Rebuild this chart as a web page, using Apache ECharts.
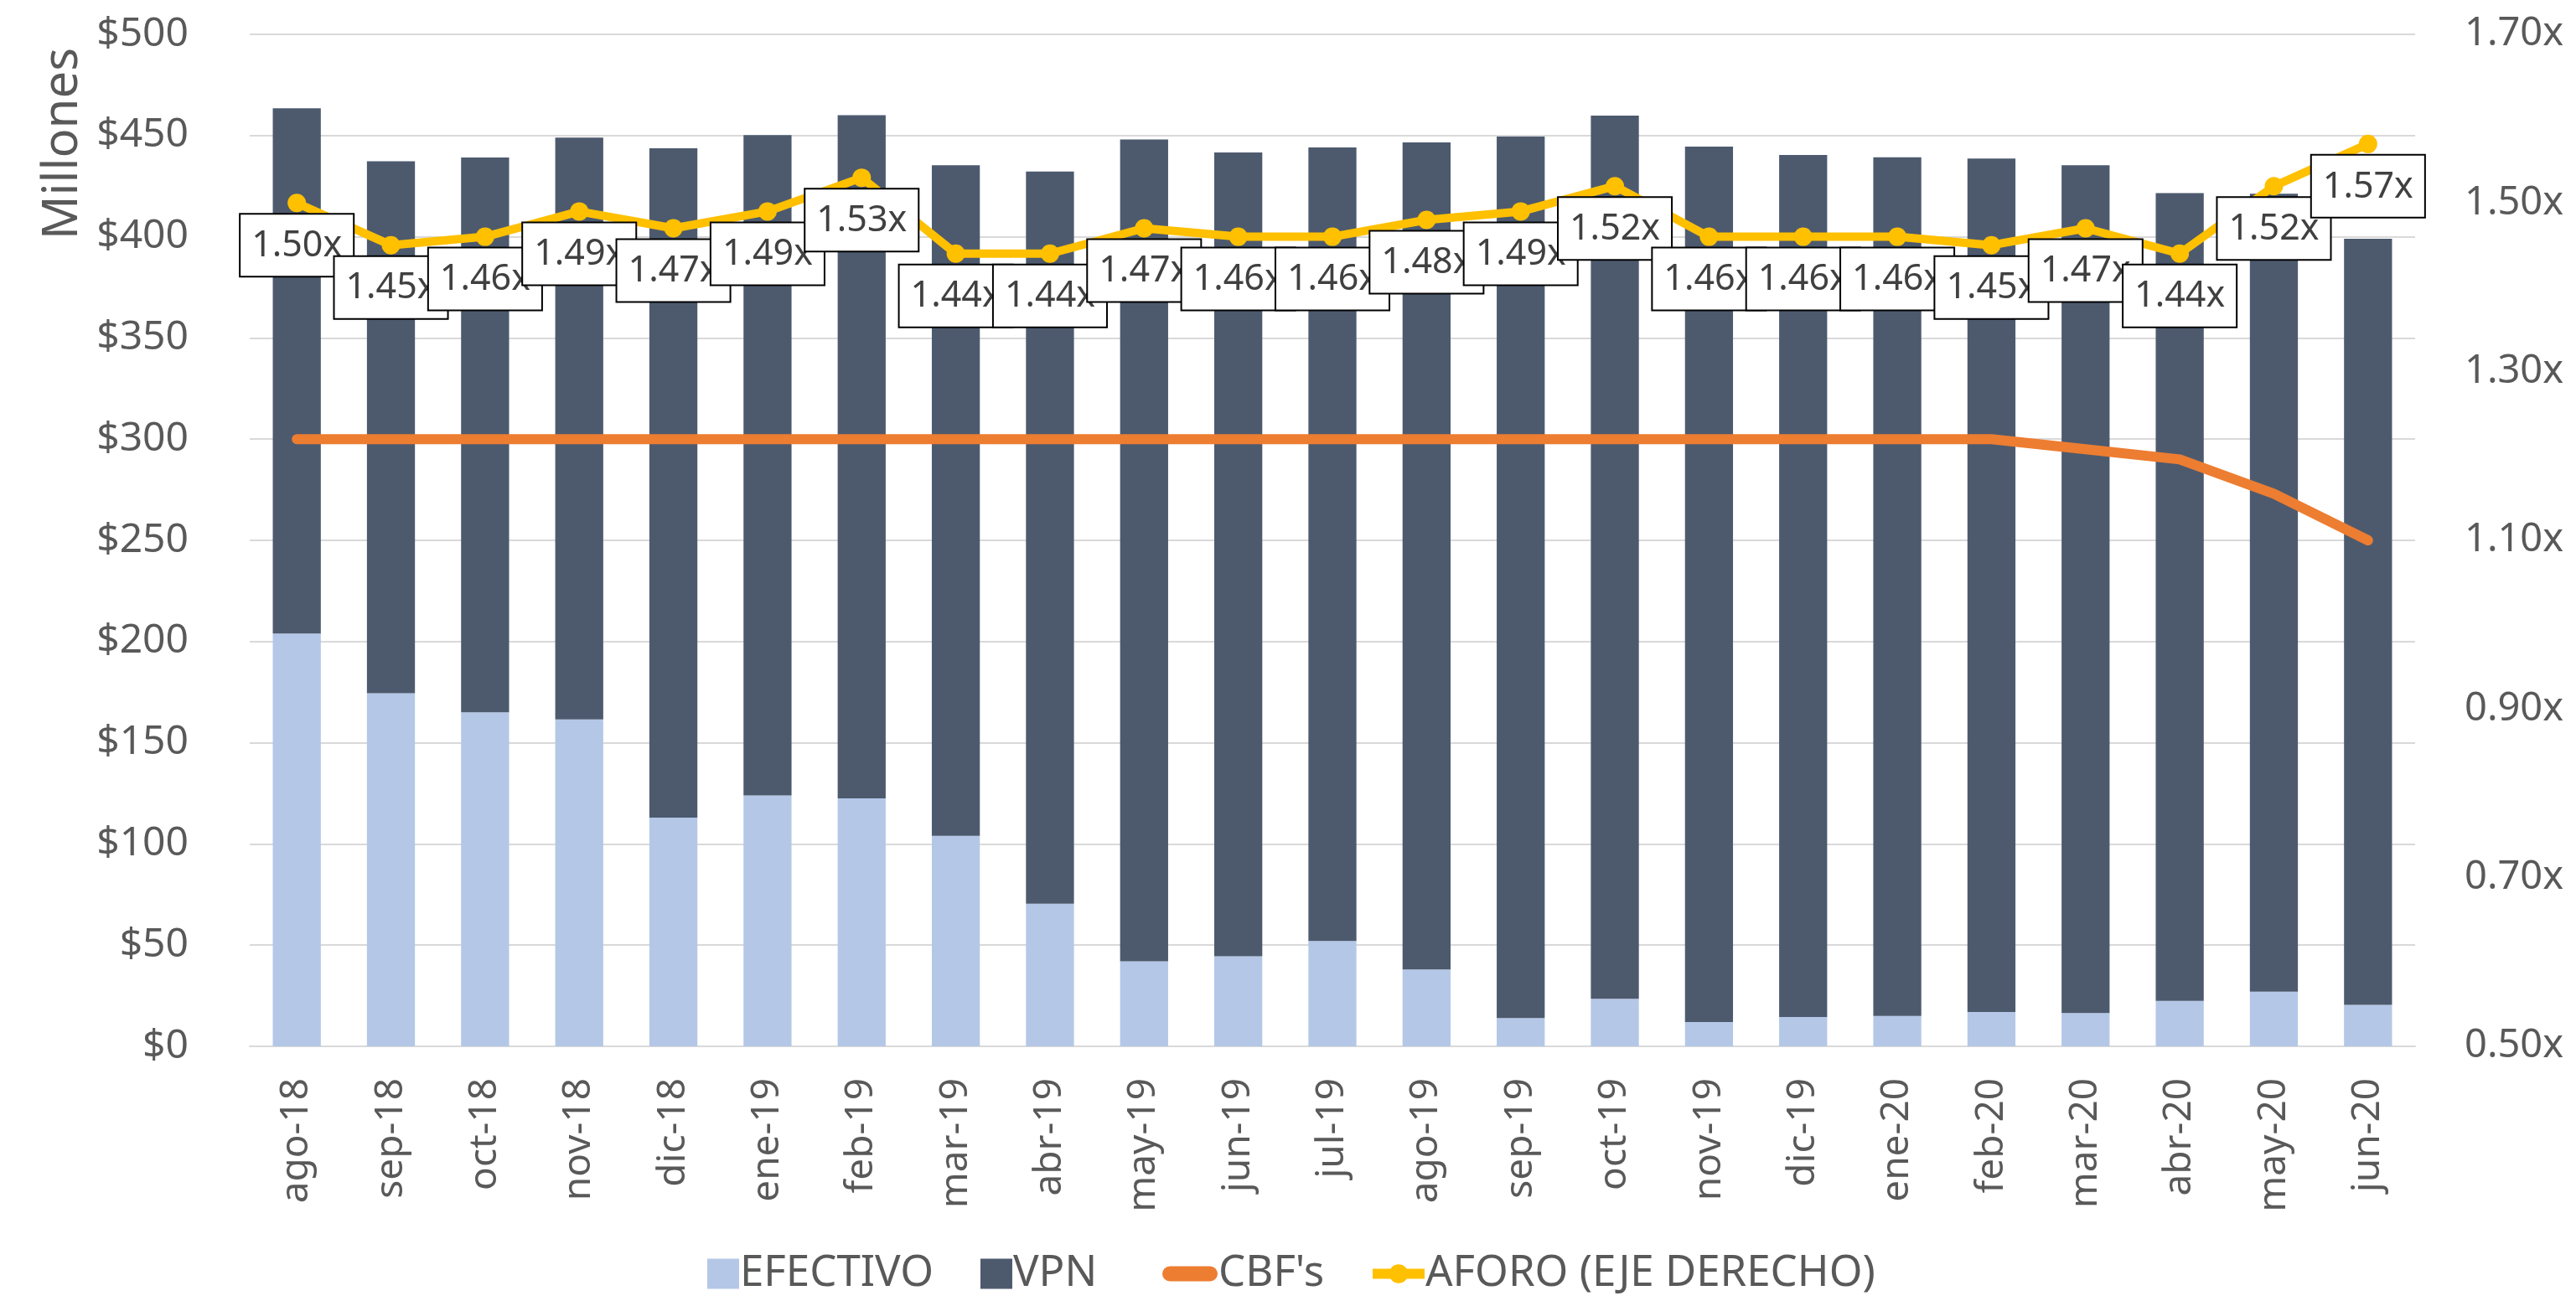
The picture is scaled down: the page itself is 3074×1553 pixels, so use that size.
<!DOCTYPE html>
<html>
<head>
<meta charset="utf-8">
<title>Aforo</title>
<script src="https://cdn.jsdelivr.net/npm/echarts@6/dist/echarts.min.js"></script>
<style>
    html, body { margin: 0; padding: 0; background: #fff; }
    #main { width: 3074px; height: 1553px; }
</style>
</head>
<body>
<div id="main"></div>
<script>
// categorias (meses)
const months = ['ago-18','sep-18','oct-18','nov-18','dic-18','ene-19','feb-19','mar-19','abr-19','may-19','jun-19','jul-19',
    'ago-19','sep-19','oct-19','nov-19','dic-19','ene-20','feb-20','mar-20','abr-20','may-20','jun-20'];

// millones de pesos (barras apiladas)
const efectivo = [204, 174.5, 165, 161.5, 113, 124, 122.5, 104, 70.5, 42, 44.5, 52,
    38, 14, 23.5, 12, 14.5, 15, 17, 16.5, 22.5, 27, 20.5];
const vpn = [259.5, 262.8, 274.2, 287.5, 330.7, 326.2, 337.6, 331.3, 361.7, 406.1, 397.1, 392.1,
    408.6, 435.5, 436.3, 432.5, 425.9, 424.3, 421.6, 418.8, 399.1, 394.3, 378.5];

// linea CBF's (eje izquierdo)
const cbfs = [300, 300, 300, 300, 300, 300, 300, 300, 300, 300, 300, 300,
    300, 300, 300, 300, 300, 300, 300, 295, 290, 273, 250];

// aforo (eje derecho)
const aforo = [1.50, 1.45, 1.46, 1.49, 1.47, 1.49, 1.53, 1.44, 1.44, 1.47, 1.46, 1.46,
    1.48, 1.49, 1.52, 1.46, 1.46, 1.46, 1.45, 1.47, 1.44, 1.52, 1.57];

const FONT = 'Noto Sans';
const GREY = '#595959';
const legendText = { fontSize: 51, color: GREY, padding: [0, 0, 0, -4] };

const myChart = echarts.init(document.getElementById('main'));

const option = {
    animation: false,
    textStyle: { fontFamily: FONT },
    grid: {
        left: 298,
        right: 192,
        top: 41,
        bottom: 304
    },
    // tres leyendas para poder dar tamaño distinto a cada icono
    legend: [{
        left: 839,
        bottom: 2,
        itemWidth: 38,
        itemHeight: 36,
        itemGap: 56,
        icon: 'rect',
        textStyle: legendText,
        data: ['EFECTIVO', 'VPN']
    }, {
        left: 1382,
        bottom: 2,
        itemWidth: 66,
        itemHeight: 18,
        icon: 'path://M9,0 H57 A9,9 0 0 1 57,18 H9 A9,9 0 0 1 9,0 Z',
        textStyle: legendText,
        data: ["CBF's"]
    }, {
        left: 1627,
        bottom: 2,
        itemWidth: 62,
        itemHeight: 28,
        lineStyle: { width: 12 },
        textStyle: legendText,
        data: ['AFORO (EJE DERECHO)']
    }],
    xAxis: {
        type: 'category',
        data: months,
        axisLine: { lineStyle: { color: '#D9D9D9', width: 2 } },
        axisTick: { show: false },
        axisLabel: {
            rotate: 90,
            margin: 38,
            fontSize: 46,
            color: GREY
        }
    },
    yAxis: [{
        type: 'value',
        min: 0,
        max: 500,
        interval: 50,
        axisLine: { show: false },
        axisTick: { show: false },
        axisLabel: {
            margin: 73,
            fontSize: 48,
            color: GREY,
            formatter: (v) => '$' + v
        },
        splitLine: { lineStyle: { color: '#D9D9D9', width: 2 } }
    }, {
        type: 'value',
        min: 0.5,
        max: 1.7,
        interval: 0.2,
        axisLine: { show: false },
        axisTick: { show: false },
        splitLine: { show: false },
        axisLabel: {
            margin: 59,
            fontSize: 47,
            color: GREY,
            formatter: (v) => v.toFixed(2) + 'x'
        }
    }],
    graphic: [{
        type: 'text',
        x: 46,
        y: 286,
        rotation: Math.PI / 2,
        style: {
            text: 'Millones',
            font: '58px "Noto Sans"',
            fill: GREY,
            textAlign: 'left',
            textVerticalAlign: 'top'
        }
    }],
    series: [{
        name: 'EFECTIVO',
        type: 'bar',
        stack: 'total',
        barWidth: '51%',
        itemStyle: { color: '#B4C7E7' },
        data: efectivo
    }, {
        name: 'VPN',
        type: 'bar',
        stack: 'total',
        barWidth: '51%',
        itemStyle: { color: '#4D5A6E' },
        data: vpn
    }, {
        name: "CBF's",
        type: 'line',
        symbol: 'none',
        itemStyle: { color: '#ED7D31' },
        lineStyle: { color: '#ED7D31', width: 12, cap: 'round', join: 'round' },
        data: cbfs,
        z: 3
    }, {
        name: 'AFORO (EJE DERECHO)',
        type: 'line',
        yAxisIndex: 1,
        symbol: 'circle',
        symbolSize: 22,
        itemStyle: { color: '#FFC000' },
        lineStyle: { color: '#FFC000', width: 10, join: 'round' },
        label: {
            show: true,
            position: 'bottom',
            distance: 3,
            formatter: (p) => p.value.toFixed(2) + 'x',
            fontSize: 43,
            color: '#404040',
            backgroundColor: '#fff',
            borderColor: '#000',
            borderWidth: 2,
            padding: [16, 13, 14, 13]
        },
        data: aforo,
        z: 4
    }]
};

myChart.setOption(option);
</script>
</body>
</html>
